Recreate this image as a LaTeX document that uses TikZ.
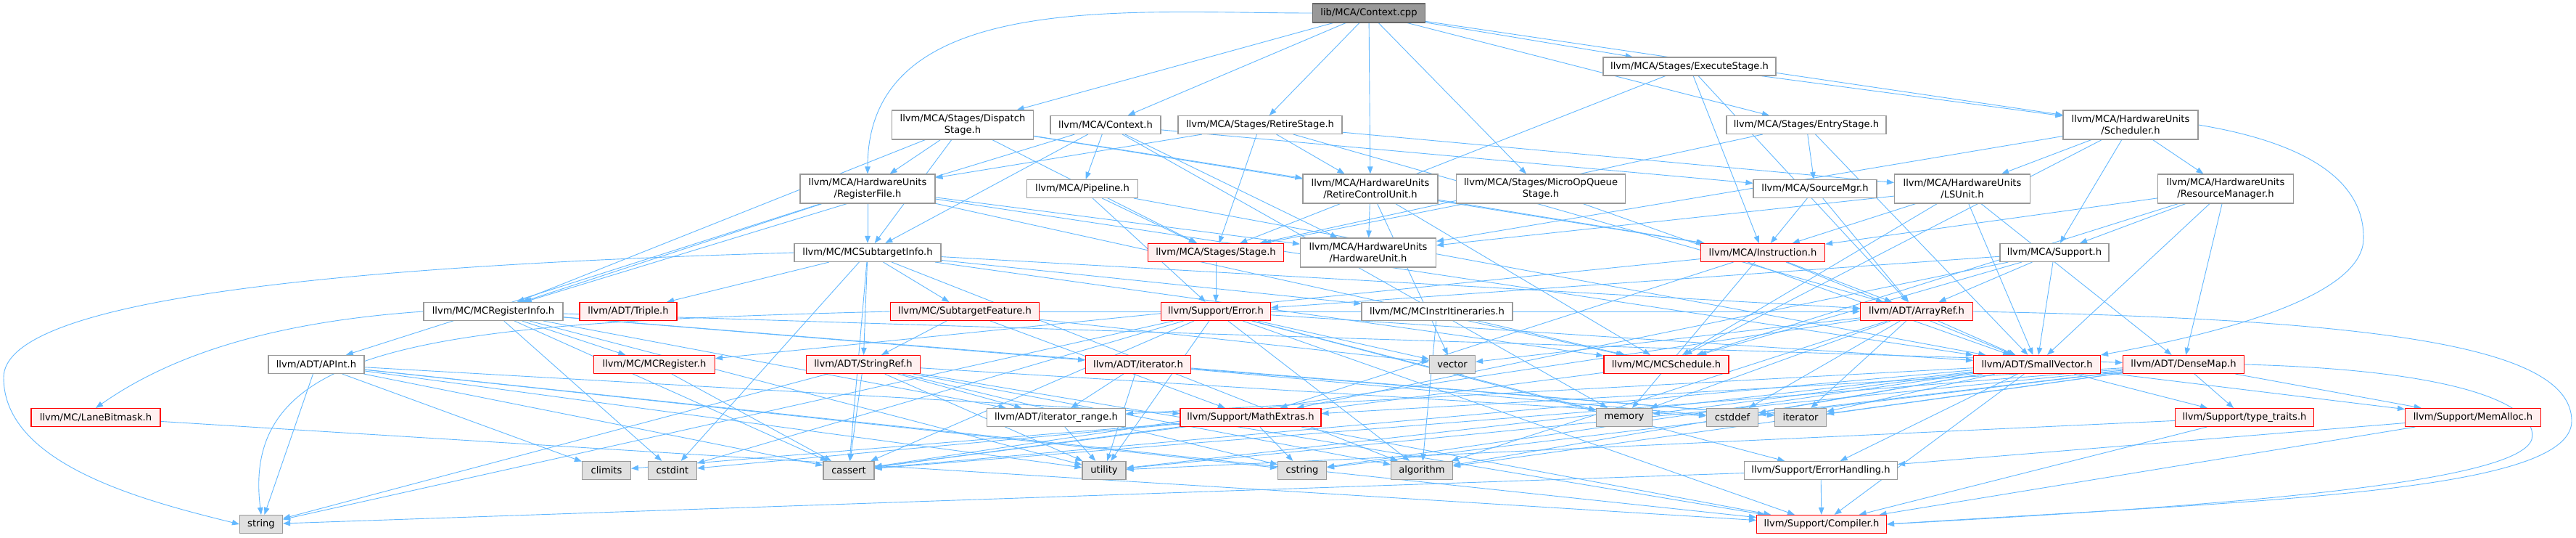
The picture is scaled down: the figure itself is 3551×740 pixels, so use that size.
\documentclass[tikz,border=0pt]{standalone}
\usepackage{fontspec}
\setmainfont{DejaVu Sans}
\usetikzlibrary{arrows.meta,backgrounds}
\definecolor{edgeblue}{HTML}{63B8FF}
\definecolor{boxgray}{HTML}{999999}
\definecolor{rootgray}{HTML}{666666}
\definecolor{hiddenred}{HTML}{FF0000}
\definecolor{hiddenfill}{HTML}{FFF0F0}
\definecolor{sysfill}{HTML}{E0E0E0}

\begin{document}
\begin{tikzpicture}[x=1pt, y=-1pt,
        every node/.style={font=\fontsize{13.1}{15.3}\selectfont, inner sep=0pt, align=center},
        filebox/.style={rectangle, draw=boxgray, fill=white, line width=1.1pt, minimum height=25},
        redbox/.style={rectangle, draw=hiddenred, fill=hiddenfill, line width=1.1pt, minimum height=25},
        stdbox/.style={rectangle, draw=boxgray, fill=sysfill, line width=1.1pt, minimum height=25},
        rootbox/.style={rectangle, draw=rootgray, fill=boxgray, line width=1.1pt, minimum height=26},
        arrow/.style={draw=edgeblue, line width=0.9pt, -{Triangle[length=10pt,width=7.5pt]}}]
        \useasboundingbox (0,0) rectangle (3551,740);
        \node[rootbox, minimum width=155] (ctxcpp) at (1887,18) {lib/MCA/Context.cpp};
        \node[filebox, minimum width=238] (exec) at (2329,91.5) {llvm/MCA/Stages/ExecuteStage.h};
        \node[filebox, minimum width=195, minimum height=40] (disp) at (1327,172) {llvm/MCA/Stages/Dispatch\\Stage.h};
        \node[filebox, minimum width=152] (ctxh) at (1524,172) {llvm/MCA/Context.h};
        \node[filebox, minimum width=226] (retst) at (1737,172) {llvm/MCA/Stages/RetireStage.h};
        \node[filebox, minimum width=220] (entry) at (2490,172) {llvm/MCA/Stages/EntryStage.h};
        \node[filebox, minimum width=186, minimum height=40] (sched) at (2937,172) {llvm/MCA/HardwareUnits\\/Scheduler.h};
        \node[filebox, minimum width=186, minimum height=40] (regfile) at (1196,260) {llvm/MCA/HardwareUnits\\/RegisterFile.h};
        \node[filebox, minimum width=153] (pipe) at (1492,260) {llvm/MCA/Pipeline.h};
        \node[filebox, minimum width=186, minimum height=40] (rcu) at (1889,260) {llvm/MCA/HardwareUnits\\/RetireControlUnit.h};
        \node[filebox, minimum width=233, minimum height=40] (muop) at (2124,260) {llvm/MCA/Stages/MicroOpQueue\\Stage.h};
        \node[filebox, minimum width=170] (srcmgr) at (2502,260) {llvm/MCA/SourceMgr.h};
        \node[filebox, minimum width=187, minimum height=40] (lsu) at (2705,260) {llvm/MCA/HardwareUnits\\/LSUnit.h};
        \node[filebox, minimum width=187, minimum height=40] (resmgr) at (3068,260) {llvm/MCA/HardwareUnits\\/ResourceManager.h};
        \node[filebox, minimum width=202] (mcsti) at (1196,348) {llvm/MC/MCSubtargetInfo.h};
        \node[redbox, minimum width=187] (stage) at (1676,348) {llvm/MCA/Stages/Stage.h};
        \node[filebox, minimum width=187, minimum height=40] (hwunit) at (1886,348) {llvm/MCA/HardwareUnits\\/HardwareUnit.h};
        \node[redbox, minimum width=171] (instr) at (2430,348) {llvm/MCA/Instruction.h};
        \node[filebox, minimum width=150] (support) at (2832,348) {llvm/MCA/Support.h};
        \node[filebox, minimum width=192] (mcri) at (680,429) {llvm/MC/MCRegisterInfo.h};
        \node[redbox, minimum width=134] (triple) at (866,429) {llvm/ADT/Triple.h};
        \node[redbox, minimum width=205] (subfeat) at (1330,429) {llvm/MC/SubtargetFeature.h};
        \node[redbox, minimum width=151] (error) at (1676,429) {llvm/Support/Error.h};
        \node[filebox, minimum width=208] (itin) at (1981,429) {llvm/MC/MCInstrItineraries.h};
        \node[redbox, minimum width=155] (aref) at (2642,429) {llvm/ADT/ArrayRef.h};
        \node[filebox, minimum width=132] (apint) at (436,502) {llvm/ADT/APInt.h};
        \node[redbox, minimum width=167] (mcreg) at (902,502) {llvm/MC/MCRegister.h};
        \node[redbox, minimum width=157] (sref) at (1190,502) {llvm/ADT/StringRef.h};
        \node[redbox, minimum width=145] (iter) at (1569,502) {llvm/ADT/iterator.h};
        \node[stdbox, minimum width=63] (vector) at (2002,502) {vector};
        \node[redbox, minimum width=172] (msched) at (2297,502) {llvm/MC/MCSchedule.h};
        \node[redbox, minimum width=175] (svec) at (2808,502) {llvm/ADT/SmallVector.h};
        \node[redbox, minimum width=167] (dmap) at (3010,502) {llvm/ADT/DenseMap.h};
        \node[redbox, minimum width=178] (lane) at (132,575) {llvm/MC/LaneBitmask.h};
        \node[filebox, minimum width=191] (irange) at (1456,575) {llvm/ADT/iterator\_range.h};
        \node[redbox, minimum width=194] (mathx) at (1724,575) {llvm/Support/MathExtras.h};
        \node[stdbox, minimum width=77] (memory) at (2239,575) {memory};
        \node[stdbox, minimum width=71] (cstddef) at (2388,575) {cstddef};
        \node[stdbox, minimum width=71] (iterator) at (2482,575) {iterator};
        \node[redbox, minimum width=191] (ttraits) at (3094,575) {llvm/Support/type\_traits.h};
        \node[redbox, minimum width=187] (memalloc) at (3409,575) {llvm/Support/MemAlloc.h};
        \node[stdbox, minimum width=67] (climits) at (836,648) {climits};
        \node[stdbox, minimum width=67] (cstdint) at (927,648) {cstdint};
        \node[stdbox, minimum width=70] (cassert) at (1170,648) {cassert};
        \node[stdbox, minimum width=60] (utility) at (1522,648) {utility};
        \node[stdbox, minimum width=67] (cstring) at (1795,648) {cstring};
        \node[stdbox, minimum width=85] (algorithm) at (1960,648) {algorithm};
        \node[filebox, minimum width=211] (errh) at (2510,648) {llvm/Support/ErrorHandling.h};
        \node[stdbox, minimum width=59] (string) at (360,722) {string};
        \node[redbox, minimum width=179] (compiler) at (2511,722) {llvm/Support/Compiler.h};
        \begin{scope}[on background layer]
        \draw[arrow] (ctxcpp.west) to[out=180,in=90] (regfile.north);
        \draw[arrow] (ctxcpp) -- (disp);
        \draw[arrow] (ctxcpp) -- (ctxh);
        \draw[arrow] (ctxcpp) -- (retst);
        \draw[arrow] (ctxcpp) -- (rcu);
        \draw[arrow] (ctxcpp) -- (muop);
        \draw[arrow] (ctxcpp) -- (exec);
        \draw[arrow] (ctxcpp) -- (entry);
        \draw[arrow] (ctxcpp) -- (sched);
        \draw[arrow] (exec) -- (sched);
        \draw[arrow] (exec) -- (stage);
        \draw[arrow] (exec) -- (instr);
        \draw[arrow] (exec) -- (aref);
        \draw[arrow] (disp) -- (regfile);
        \draw[arrow] (disp) -- (rcu);
        \draw[arrow] (disp) -- (stage);
        \draw[arrow] (disp) -- (instr);
        \draw[arrow] (disp) -- (mcsti);
        \draw[arrow] (disp) -- (mcri);
        \draw[arrow] (ctxh) -- (pipe);
        \draw[arrow] (ctxh) -- (hwunit);
        \draw[arrow] (ctxh) -- (srcmgr);
        \draw[arrow] (ctxh) -- (mcsti);
        \draw[arrow] (ctxh) -- (mcri);
        \draw[arrow] (ctxh) -- (memory);
        \draw[arrow] (retst) -- (regfile);
        \draw[arrow] (retst) -- (rcu);
        \draw[arrow] (retst) -- (lsu);
        \draw[arrow] (retst) -- (stage);
        \draw[arrow] (retst) -- (aref);
        \draw[arrow] (entry) -- (srcmgr);
        \draw[arrow] (entry) -- (stage);
        \draw[arrow] (entry) -- (svec);
        \draw[arrow] (sched) -- (lsu);
        \draw[arrow] (sched) -- (resmgr);
        \draw[arrow] (sched) -- (support);
        \draw[arrow] (sched) -- (hwunit);
        \draw[arrow] (sched) -- (msched);
        \draw[arrow] (sched.east) .. controls (3200,200) and (3260,260) .. (3258,330) .. controls (3255,420) and (3000,470) .. (svec.north east);
        \draw[arrow] (regfile) -- (mcsti);
        \draw[arrow] (regfile) -- (apint);
        \draw[arrow] (regfile) -- (mcri);
        \draw[arrow] (regfile) -- (hwunit);
        \draw[arrow] (regfile) -- (msched);
        \draw[arrow] (regfile) -- (svec);
        \draw[arrow] (pipe) -- (stage);
        \draw[arrow] (pipe) -- (error);
        \draw[arrow] (pipe) -- (svec);
        \draw[arrow] (rcu) -- (hwunit);
        \draw[arrow] (rcu) -- (instr);
        \draw[arrow] (rcu) -- (msched);
        \draw[arrow] (rcu) -- (vector);
        \draw[arrow] (muop) -- (stage);
        \draw[arrow] (muop) -- (svec);
        \draw[arrow] (srcmgr) -- (instr);
        \draw[arrow] (srcmgr) -- (aref);
        \draw[arrow] (lsu) -- (hwunit);
        \draw[arrow] (lsu) -- (instr);
        \draw[arrow] (lsu) -- (msched);
        \draw[arrow] (lsu) -- (svec);
        \draw[arrow] (lsu) -- (dmap);
        \draw[arrow] (resmgr) -- (instr);
        \draw[arrow] (resmgr) -- (support);
        \draw[arrow] (resmgr) -- (msched);
        \draw[arrow] (resmgr) -- (svec);
        \draw[arrow] (resmgr) -- (dmap);
        \draw[arrow] (mcsti) -- (aref);
        \draw[arrow] (mcsti) -- (sref);
        \draw[arrow] (mcsti) -- (triple);
        \draw[arrow] (mcsti) -- (itin);
        \draw[arrow] (mcsti) -- (msched);
        \draw[arrow] (mcsti) -- (subfeat);
        \draw[arrow] (mcsti) -- (algorithm);
        \draw[arrow] (mcsti) -- (cassert);
        \draw[arrow] (mcsti) -- (cstdint);
        \draw[arrow] (mcsti.west) .. controls (400,368) and (5,420) .. (5,520) .. controls (5,640) and (200,690) .. (string.west);
        \draw[arrow] (stage) -- (error);
        \draw[arrow] (instr) -- (aref);
        \draw[arrow] (instr) -- (svec);
        \draw[arrow] (instr) -- (mcreg);
        \draw[arrow] (instr) -- (mathx);
        \draw[arrow] (instr) -- (memory);
        \draw[arrow] (support) -- (aref);
        \draw[arrow] (support) -- (svec);
        \draw[arrow] (support) -- (msched);
        \draw[arrow] (support) -- (error);
        \draw[arrow] (support) -- (mathx);
        \draw[arrow] (mcri) -- (dmap);
        \draw[arrow] (mcri) -- (iter);
        \draw[arrow] (mcri) -- (irange);
        \draw[arrow] (mcri.west) .. controls (350,445) and (220,500) .. (lane.north);
        \draw[arrow] (mcri) -- (mcreg);
        \draw[arrow] (mcri) -- (cassert);
        \draw[arrow] (mcri) -- (cstdint);
        \draw[arrow] (mcri) -- (iterator);
        \draw[arrow] (mcri) -- (utility);
        \draw[arrow] (subfeat) -- (sref);
        \draw[arrow] (subfeat) -- (aref);
        \draw[arrow] (subfeat) -- (mathx);
        \draw[arrow] (subfeat) -- (vector);
        \draw[arrow] (subfeat.west) .. controls (600,445) and (330,470) .. (string.north);
        \draw[arrow] (error) -- (svec);
        \draw[arrow] (error) -- (compiler);
        \draw[arrow] (error) -- (errh);
        \draw[arrow] (error) -- (algorithm);
        \draw[arrow] (error) -- (cassert);
        \draw[arrow] (error) -- (cstdint);
        \draw[arrow] (error) -- (memory);
        \draw[arrow] (error) -- (string);
        \draw[arrow] (error) -- (utility);
        \draw[arrow] (error) -- (vector);
        \draw[arrow] (itin) -- (msched);
        \draw[arrow] (itin) -- (algorithm);
        \draw[arrow] (aref) -- (svec);
        \draw[arrow] (aref.east) .. controls (3300,440) and (3545,480) .. (3545,580) .. controls (3545,680) and (3100,690) .. (compiler.east);
        \draw[arrow] (aref) -- (algorithm);
        \draw[arrow] (aref) -- (cassert);
        \draw[arrow] (aref) -- (cstddef);
        \draw[arrow] (aref) -- (iterator);
        \draw[arrow] (aref) -- (memory);
        \draw[arrow] (aref) -- (vector);
        \draw[arrow] (apint) -- (string);
        \draw[arrow] (apint) -- (compiler);
        \draw[arrow] (apint) -- (mathx);
        \draw[arrow] (apint) -- (cassert);
        \draw[arrow] (apint) -- (climits);
        \draw[arrow] (apint) -- (cstring);
        \draw[arrow] (apint) -- (utility);
        \draw[arrow] (mcreg) -- (cassert);
        \draw[arrow] (sref) -- (irange);
        \draw[arrow] (sref) -- (compiler);
        \draw[arrow] (sref) -- (algorithm);
        \draw[arrow] (sref) -- (cassert);
        \draw[arrow] (sref) -- (cstddef);
        \draw[arrow] (sref) -- (cstring);
        \draw[arrow] (sref) -- (string);
        \draw[arrow] (sref) -- (utility);
        \draw[arrow] (iter) -- (irange);
        \draw[arrow] (iter) -- (cstddef);
        \draw[arrow] (iter) -- (iterator);
        \draw[arrow] (iter) -- (utility);
        \draw[arrow] (msched) -- (cassert);
        \draw[arrow] (svec) -- (irange);
        \draw[arrow] (svec) -- (compiler);
        \draw[arrow] (svec) -- (errh);
        \draw[arrow] (svec) -- (memalloc);
        \draw[arrow] (svec) -- (ttraits);
        \draw[arrow] (svec) -- (algorithm);
        \draw[arrow] (svec) -- (cassert);
        \draw[arrow] (svec) -- (cstddef);
        \draw[arrow] (svec) -- (cstring);
        \draw[arrow] (svec) -- (iterator);
        \draw[arrow] (svec) -- (memory);
        \draw[arrow] (svec) -- (utility);
        \draw[arrow] (dmap.east) .. controls (3400,510) and (3500,560) .. (3490,605) .. controls (3470,670) and (3000,700) .. (compiler.east);
        \draw[arrow] (dmap) -- (mathx);
        \draw[arrow] (dmap) -- (memalloc);
        \draw[arrow] (dmap) -- (ttraits);
        \draw[arrow] (dmap) -- (algorithm);
        \draw[arrow] (dmap) -- (cassert);
        \draw[arrow] (dmap) -- (cstddef);
        \draw[arrow] (dmap) -- (cstring);
        \draw[arrow] (dmap) -- (iterator);
        \draw[arrow] (dmap) -- (utility);
        \draw[arrow] (lane) -- (compiler);
        \draw[arrow] (mathx) -- (compiler);
        \draw[arrow] (mathx) -- (cassert);
        \draw[arrow] (mathx) -- (climits);
        \draw[arrow] (mathx) -- (cstdint);
        \draw[arrow] (mathx) -- (cstring);
        \draw[arrow] (ttraits) -- (compiler);
        \draw[arrow] (ttraits) -- (utility);
        \draw[arrow] (memalloc) -- (compiler);
        \draw[arrow] (memalloc) -- (errh);
        \draw[arrow] (errh) -- (compiler);
        \draw[arrow] (errh) -- (string);
        \draw[arrow] (irange) -- (utility);
        \end{scope}
      \end{tikzpicture}
\end{document}
